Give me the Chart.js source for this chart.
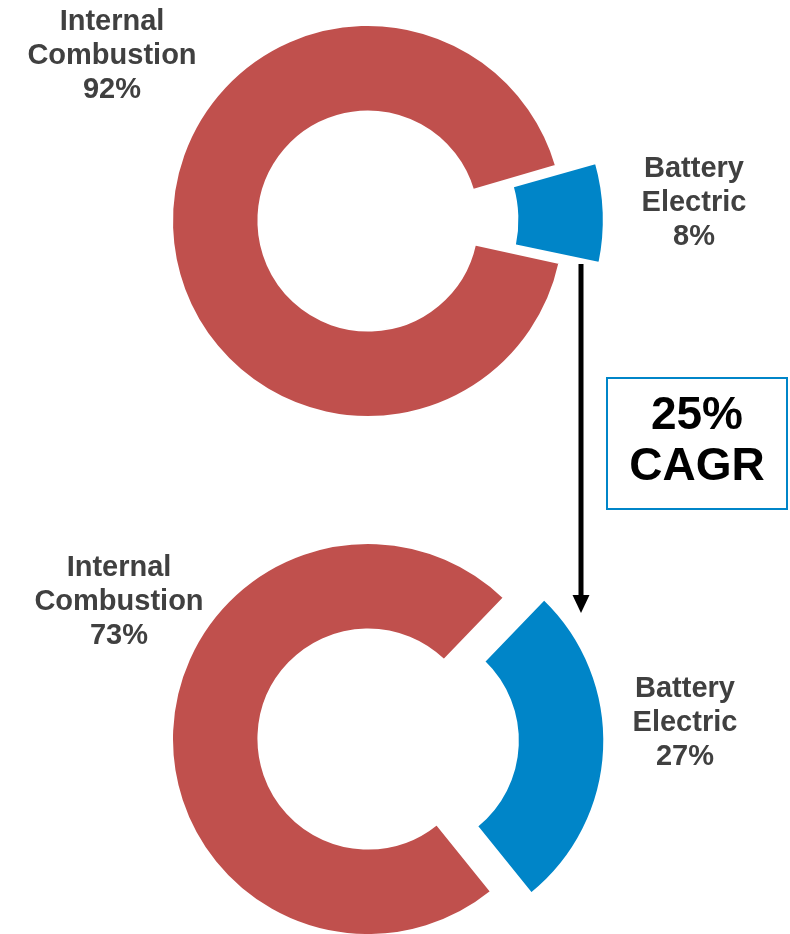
<!DOCTYPE html>
<html>
<head>
<meta charset="utf-8">
<script src="https://cdn.jsdelivr.net/npm/chart.js@4/dist/chart.umd.min.js"></script>
<style>
  html, body { margin: 0; padding: 0; background: #fff; }
  body { width: 790px; height: 934px; position: relative; overflow: hidden;
         font-family: "Liberation Sans", Arial, sans-serif; }
  .pane { position: absolute; left: 0; width: 790px; height: 467px; }
  .lbl { position: absolute; width: 220px; text-align: center; font-weight: bold;
         font-size: 29px; line-height: 34px; color: #404040; white-space: nowrap; }
  #growth { position: absolute; left: 606px; top: 377px; width: 178px; height: 120px;
            border: 2px solid #0085C8; text-align: center; font-weight: bold;
            font-size: 46px; line-height: 51px; color: #000; padding-top: 9px;
            box-sizing: content-box; }
  #arrow { position: absolute; left: 565px; top: 260px; }
</style>
</head>
<body>
<div class="pane" style="top:0"><canvas id="before" width="790" height="467"></canvas></div>
<div class="pane" style="top:467px"><canvas id="after" width="790" height="467"></canvas></div>

<div class="lbl" id="lblBeforeIce" style="left:2px; top:3px"></div>
<div class="lbl" id="lblBeforeBev" style="left:584px; top:150px"></div>
<div class="lbl" id="lblAfterIce" style="left:9px; top:549px"></div>
<div class="lbl" id="lblAfterBev" style="left:575px; top:670px"></div>

<svg id="arrow" width="32" height="360" viewBox="0 0 32 360">
  <line x1="16" y1="4" x2="16" y2="338" stroke="#000" stroke-width="5"/>
  <polygon points="7.5,335 24.5,335 16,353" fill="#000"/>
</svg>
<div id="growth"></div>

<script>
// Powertrain mix, share of sales (%)
const categories = ['Internal Combustion', 'Battery Electric'];
const shareBefore = [92, 8];
const shareAfter = [73, 27];
const growthText = ['25%', 'CAGR'];

const colors = ['#C0504D', '#0085C8'];

function ring(id, values, rotation, bevOffset, pad) {
  new Chart(document.getElementById(id), {
    type: 'doughnut',
    data: {
      labels: categories,
      datasets: [{
        data: values,
        backgroundColor: colors,
        borderColor: '#ffffff',
        borderWidth: 2,
        offset: [0, bevOffset],
        hoverOffset: 0,
        clip: false
      }]
    },
    options: {
      responsive: false,
      animation: false,
      events: [],
      rotation: rotation,
      radius: 196,
      cutout: '55.9%',
      layout: { padding: pad },
      plugins: { legend: { display: false }, tooltip: { enabled: false } }
    }
  });
}

// ring centres: (368, 221) and (368, 739) on the page
ring('before', shareBefore, 102.4, 105, { left: 0, right: 54, top: 0, bottom: 25 });
ring('after', shareAfter, 141.1, 160, { left: 0, right: 54, top: 77, bottom: 0 });

function labelHtml(cat, v) {
  return cat.split(' ').concat([v + '%']).join('<br>');
}
document.getElementById('lblBeforeIce').innerHTML = labelHtml(categories[0], shareBefore[0]);
document.getElementById('lblBeforeBev').innerHTML = labelHtml(categories[1], shareBefore[1]);
document.getElementById('lblAfterIce').innerHTML = labelHtml(categories[0], shareAfter[0]);
document.getElementById('lblAfterBev').innerHTML = labelHtml(categories[1], shareAfter[1]);
document.getElementById('growth').innerHTML = growthText.join('<br>');
</script>
</body>
</html>
